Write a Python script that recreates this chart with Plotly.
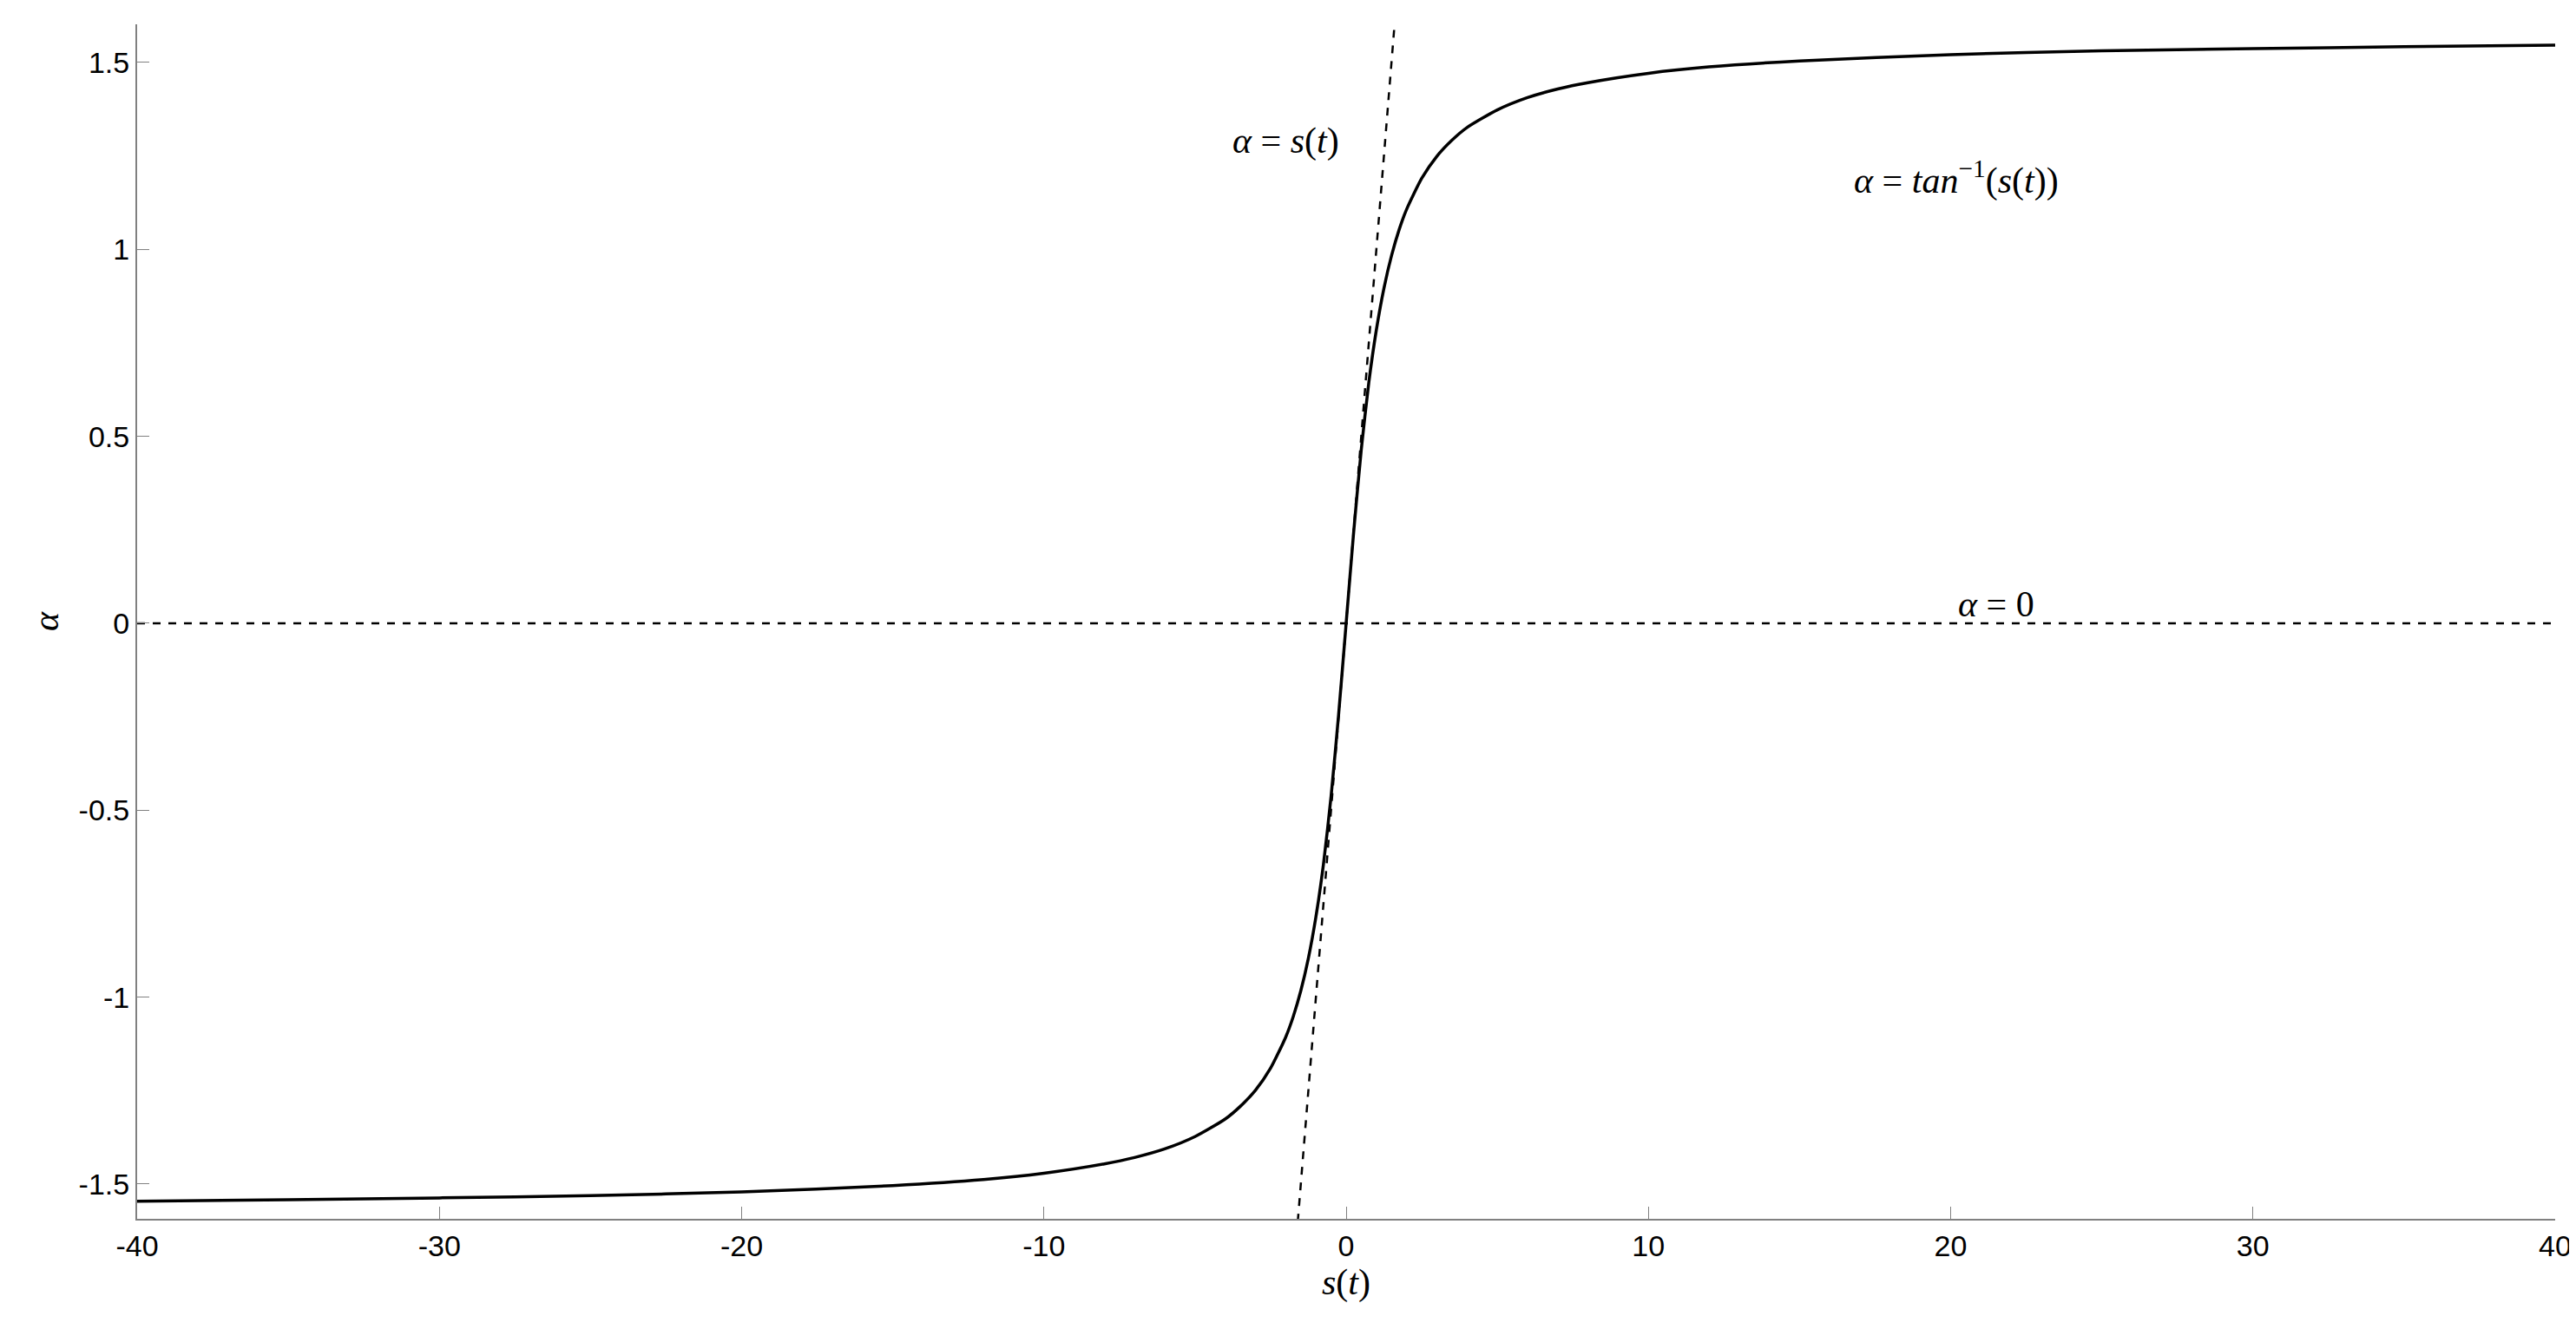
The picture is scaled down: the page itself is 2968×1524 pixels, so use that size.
import plotly.graph_objects as go

# values
s_pos = [0, 0.25, 0.5, 0.75, 1, 1.25, 1.5, 1.75, 2, 2.5, 3, 3.5, 4, 5, 6, 7, 8, 10, 12, 15, 20, 25, 30, 35, 40]
alpha_pos = [0, 0.245, 0.464, 0.644, 0.785, 0.896, 0.983, 1.052, 1.107, 1.190, 1.249, 1.292, 1.326, 1.373, 1.406, 1.429, 1.446, 1.471, 1.488, 1.504, 1.521, 1.531, 1.537, 1.542, 1.546]
s_vals = [-v for v in s_pos[::-1]] + s_pos[1:]
alpha_vals = [-v for v in alpha_pos[::-1]] + alpha_pos[1:]
lin_s = [-1.6, 1.6]
lin_alpha = [-1.6, 1.6]
zero_s = [-40, 40]
zero_alpha = [0, 0]
x_ticks = [-40, -30, -20, -10, 0, 10, 20, 30, 40]
x_labels = ["-40", "-30", "-20", "-10", "0", "10", "20", "30", "40"]
y_ticks = [-1.5, -1, -0.5, 0, 0.5, 1, 1.5]
y_labels = ["-1.5", "-1", "-0.5", "0", "0.5", "1", "1.5"]

fig = go.Figure()
fig.add_trace(go.Scatter(x=zero_s, y=zero_alpha, mode="lines", line=dict(color="black", width=2.5, dash="dash")))
fig.add_trace(go.Scatter(x=lin_s, y=lin_alpha, mode="lines", line=dict(color="black", width=2.5, dash="dash")))
fig.add_trace(go.Scatter(x=s_vals, y=alpha_vals, mode="lines", line=dict(color="black", width=3.5, shape="spline", smoothing=0.6)))

serif = dict(family="Liberation Serif", size=42, color="black")
fig.add_annotation(x=-2, y=1.29, text="<i>α</i> = <i>s</i>(<i>t</i>)", showarrow=False, font=serif)
fig.add_annotation(x=20.2, y=1.19, text="<i>α</i> = <i>tan</i><sup>−1</sup>(<i>s</i>(<i>t</i>))", showarrow=False, font=serif)
fig.add_annotation(x=21.5, y=0.05, text="<i>α</i> = 0", showarrow=False, font=serif)

axis_common = dict(showline=True, linecolor="#808080", linewidth=2, ticks="inside", ticklen=14,
                   tickcolor="#808080", showgrid=False, zeroline=False, mirror=False,
                   tickfont=dict(family="Liberation Sans", size=34, color="black"))
fig.update_xaxes(range=[-40, 40], tickvals=x_ticks, ticktext=x_labels,
                 title=dict(text="<i>s</i>(<i>t</i>)", font=serif, standoff=2), **axis_common)
fig.update_yaxes(range=[-1.593, 1.602], tickvals=y_ticks, ticktext=y_labels,
                 title=dict(text="<i>α</i>", font=serif, standoff=10), **axis_common)
fig.update_layout(width=2968, height=1524, showlegend=False, plot_bgcolor="white", paper_bgcolor="white",
                  margin=dict(l=150, r=32, t=20, b=128))
fig.write_html("out.html")
